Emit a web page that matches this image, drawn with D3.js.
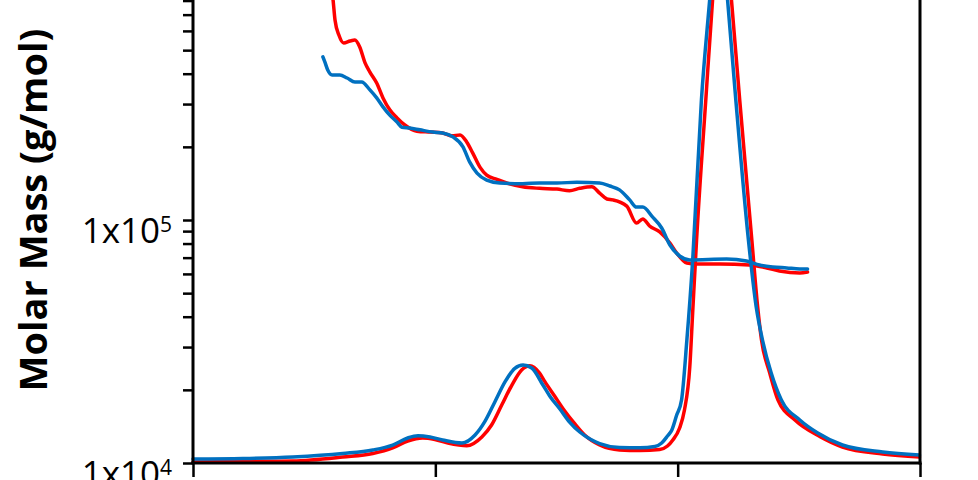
<!DOCTYPE html>
<html>
<head>
<meta charset="utf-8">
<script src="https://cdn.jsdelivr.net/npm/d3@7"></script>
<style>
  body { margin: 0; background: #fff; }
  svg { display: block; font-family: "Open Sans", sans-serif; }
</style>
</head>
<body>
<script>
// Data: elution time (min), signal (relative) and molar mass (g/mol)
var time_ticks = [10, 15, 20, 25];
var mass_labels = [1e4, 1e5];
var series_color = {red: "#FF0000", blue: "#0070C0"};

var red_signal_t = [10.00, 11.03, 12.06, 13.09, 13.71, 14.12, 14.43, 14.74, 14.99, 15.26, 15.65, 15.96,
                    16.16, 16.37, 16.58, 16.78, 16.95, 17.15, 17.26, 17.46, 17.67, 17.88, 18.08, 18.39, 18.80,
                    19.22, 19.63, 19.79, 19.90, 20.04, 20.14, 20.25, 20.31, 20.39, 20.58, 20.72, 20.91, 21.11,
                    21.28, 21.53, 21.65, 21.73, 21.90, 22.07, 22.42, 22.94, 23.40, 24.23, 24.99];
var red_signal = [0.17, 0.26, 0.35, 1.04, 1.64, 2.60, 3.81, 4.33, 4.07, 3.46, 2.99, 4.50,
                  6.57, 10.03, 13.49, 16.09, 16.83, 15.57, 14.07, 11.59, 9.00, 6.75, 4.84, 3.11, 2.25,
                  2.16, 2.34, 2.94, 3.98, 6.06, 9.17, 16.61, 26.10, 38.58, 62.80, 80.10, 99.13, 80.10,
                  62.80, 38.58, 27.04, 21.28, 15.57, 10.90, 7.44, 4.55, 2.77, 1.56, 1.04];

var blue_signal_t = [10.00, 11.03, 12.06, 13.09, 13.71, 14.12, 14.43, 14.64, 14.89, 15.15, 15.55, 15.82,
                     16.02, 16.23, 16.44, 16.64, 16.81, 16.99, 17.22, 17.36, 17.57, 17.77, 17.98, 18.19, 18.39,
                     18.80, 19.22, 19.53, 19.67, 19.79, 19.88, 19.98, 20.08, 20.19, 20.31, 20.49, 20.66, 20.85,
                     21.03, 21.20, 21.46, 21.62, 21.75, 21.93, 22.14, 22.52, 22.89, 23.40, 24.23, 24.99];
var blue_signal = [0.69, 0.78, 1.04, 1.64, 2.25, 3.11, 4.33, 4.72, 4.50, 3.98, 3.44, 4.84,
                   7.15, 10.61, 14.07, 16.38, 16.96, 16.44, 13.49, 11.59, 9.34, 7.09, 5.36, 4.15, 3.37,
                   2.68, 2.63, 2.85, 3.46, 4.67, 5.71, 8.30, 10.90, 21.28, 35.12, 62.80, 80.10, 99.13,
                   80.10, 62.80, 38.58, 27.04, 21.28, 15.57, 10.90, 7.44, 5.19, 3.11, 1.90, 1.38];

var red_mass_t = [12.85, 12.89, 12.93, 13.01, 13.11, 13.24, 13.34, 13.44, 13.55, 13.65, 13.79, 13.92, 14.06,
                  14.21, 14.37, 14.62, 14.89, 15.15, 15.34, 15.51, 15.65, 15.77, 15.92, 16.06, 16.27, 16.47,
                  16.80, 17.15, 17.51, 17.77, 17.98, 18.23, 18.39, 18.54, 18.66, 18.95, 19.15, 19.28, 19.42,
                  19.63, 19.84, 19.98, 20.19, 20.39, 20.87, 21.48, 21.84, 22.10, 22.52, 22.68];
var red_mass = [927000, 804000, 665000, 577000, 535000, 545000, 550000, 515000, 443000, 406000, 366000, 318000, 284000,
                263000, 246000, 232000, 230000, 228000, 222000, 224000, 209000, 189000, 165000, 153000, 147000, 142000,
                137000, 135000, 134000, 132000, 135000, 137000, 129000, 122000, 121000, 114000, 97200, 101000, 94500,
                89300, 80400, 73100, 66500, 65900, 65900, 65300, 63500, 61700, 60500, 61100];

var blue_mass_t = [12.68, 12.72, 12.78, 12.87, 13.03, 13.18, 13.34, 13.48, 13.65, 13.79, 13.92, 14.06, 14.21,
                   14.31, 14.47, 14.68, 14.95, 15.15, 15.36, 15.57, 15.71, 15.86, 16.06, 16.33, 16.80, 17.15,
                   17.51, 17.92, 18.39, 18.60, 18.80, 19.01, 19.15, 19.28, 19.48, 19.67, 19.84, 20.04, 20.25,
                   21.01, 21.42, 21.69, 21.96, 22.25, 22.52, 22.68];
var blue_mass = [469000, 447000, 414000, 395000, 395000, 384000, 370000, 370000, 343000, 318000, 292000, 270000, 253000,
                 241000, 239000, 235000, 230000, 228000, 220000, 200000, 173000, 156000, 146000, 142000, 141000, 142000,
                 142000, 143000, 142000, 138000, 133000, 121000, 113000, 113000, 103000, 92700, 78900, 71100, 68500,
                 69100, 67800, 65300, 64100, 63500, 62900, 62900];

var width = 978, height = 480;
var plot = {left: 193, right: 920, bottom: 463};

var svg = d3.select("body").append("svg")
        .attr("width", width)
        .attr("height", height);

var x = d3.scaleLinear().domain([10, 25]).range([plot.left, plot.right]);
// one decade is about 243px; the top of the chart runs out of the picture
var y_mass = d3.scaleLog().domain([1e4, 1e6]).range([plot.bottom, plot.bottom - 486]);
var y_signal = d3.scaleLinear().domain([0, 100]).range([plot.bottom, plot.bottom - 578]);

function zip(ts, vs) { return ts.map(function(t, i) { return [t, vs[i]]; }); }

var line_signal = d3.line()
        .x(function(d) { return x(d[0]); })
        .y(function(d) { return y_signal(d[1]); })
        .curve(d3.curveMonotoneX);
var line_mass = d3.line()
        .x(function(d) { return x(d[0]); })
        .y(function(d) { return y_mass(d[1]); })
        .curve(d3.curveMonotoneX);

// Draw the curves, red first so blue sits on top
var curves = [
    {data: zip(red_signal_t, red_signal), line: line_signal, color: series_color.red},
    {data: zip(red_mass_t, red_mass), line: line_mass, color: series_color.red},
    {data: zip(blue_signal_t, blue_signal), line: line_signal, color: series_color.blue},
    {data: zip(blue_mass_t, blue_mass), line: line_mass, color: series_color.blue}
];
svg.append("g").attr("class", "curves")
        .selectAll("path")
        .data(curves).enter()
    .append("path")
        .attr("d", function(d) { return d.line(d.data); })
        .style("fill", "none")
        .style("stroke", function(d) { return d.color; })
        .style("stroke-width", 3.5)
        .style("stroke-linejoin", "round")
        .style("stroke-linecap", "round");

// Axes
var mass_ticks = [];
[1e4, 1e5].forEach(function(dec) {
    for (var k = 1; k <= 9; k++) mass_ticks.push(dec * k);
});
mass_ticks.push(1e6);

var axis_left = svg.append("g")
        .attr("transform", "translate(" + plot.left + ",0)")
        .call(d3.axisLeft(y_mass).tickValues(mass_ticks).tickSize(10).tickSizeOuter(0).tickFormat(""));
var axis_bottom = svg.append("g")
        .attr("transform", "translate(0," + plot.bottom + ")")
        .call(d3.axisBottom(x).tickValues(time_ticks).tickSize(14).tickSizeOuter(0).tickFormat(""));
var axis_right = svg.append("g")
        .attr("transform", "translate(" + plot.right + ",0)")
        .call(d3.axisRight(y_mass).tickValues([]).tickSizeOuter(0));

svg.selectAll(".domain").style("stroke", "#000").style("stroke-width", 3);
svg.selectAll(".tick line").style("stroke", "#000").style("stroke-width", 2.5);
axis_left.select(".domain").attr("d", "M0," + plot.bottom + "V-40");
axis_right.select(".domain").attr("d", "M0," + (plot.bottom + 1.5) + "V-40");
axis_bottom.select(".domain").attr("d", "M" + (plot.left - 1.5) + ",0H" + (plot.right + 1.5));

// Tick labels as 1x10^n
var labels = svg.append("g").attr("class", "mass_labels")
        .selectAll("text")
        .data(mass_labels).enter()
    .append("text")
        .attr("x", plot.left - 21)
        .attr("y", function(d) { return y_mass(d) + 23; })
        .style("text-anchor", "end")
        .style("font-size", "35px")
        .style("fill", "#000");
labels.append("tspan").text("1x10");
labels.append("tspan")
        .attr("dy", -11)
        .style("font-size", "21px")
        .text(function(d) { return Math.round(Math.log10(d)); });

// Axis title
svg.append("text")
        .attr("transform", "translate(47,210) rotate(-90)")
        .style("text-anchor", "middle")
        .style("font-size", "38px")
        .style("font-weight", "bold")
        .style("fill", "#000")
        .text("Molar Mass (g/mol)");
</script>
</body>
</html>
